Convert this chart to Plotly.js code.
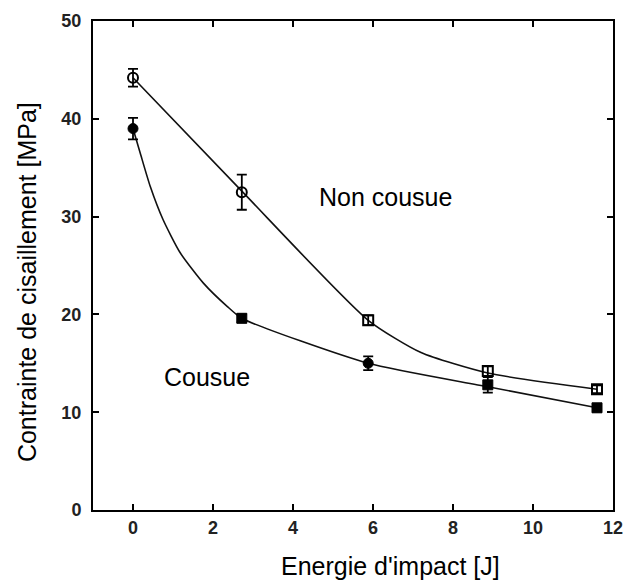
<!DOCTYPE html>
<html>
<head>
<meta charset="utf-8">
<script src="https://cdn.plot.ly/plotly-3.0.1.min.js"></script>
<style>html,body{margin:0;padding:0;background:#fff;}#chart{width:627px;height:583px;}</style>
</head>
<body>
<div id="chart"></div>
<script>
// Measured points
const energy = [0, 2.72, 5.88, 8.87, 11.6];
const nonCousue = [44.2, 32.5, 19.4, 14.2, 12.35];
const nonCousueErr = [0.9, 1.8, 0.5, 0.5, 0.4];
const nonCousueSymbols = ['circle-open', 'circle-open', 'square-open', 'square-open', 'square-open'];
const cousue = [39.0, 19.6, 15.0, 12.8, 10.45];
const cousueErr = [1.1, 0.4, 0.7, 0.8, 0.4];
const cousueSymbols = ['circle', 'square', 'circle', 'square', 'square'];

// Fitted curves
const nonCousueFitX = [0, 2.72, 5.88, 7.2, 8.87, 11.6];
const nonCousueFitY = [44.2, 32.6, 19.4, 16.1, 14.0, 12.35];
const cousueFitX = [0, 0.18, 0.43, 0.75, 1.18, 1.76, 2.36, 2.72, 5.88, 8.87, 11.6];
const cousueFitY = [39.0, 36.5, 33.1, 29.7, 26.3, 23.2, 20.8, 19.6, 15.0, 12.6, 10.45];

const xTicks = [0, 2, 4, 6, 8, 10, 12];
const yTicks = [0, 10, 20, 30, 40, 50];

const xTitle = "Energie d'impact [J]";
const yTitle = 'Contrainte de cisaillement [MPa]';

const labels = [
  {text: 'Non cousue', x: 6.3, y: 32.0},
  {text: 'Cousue', x: 1.84, y: 13.6}
];

const FONT = 'Liberation Sans, Arial, sans-serif';

const traces = [
  {x: nonCousueFitX, y: nonCousueFitY, mode: 'lines', line: {color: '#111', width: 1.6, shape: 'spline', smoothing: 0.6}, hoverinfo: 'skip', showlegend: false},
  {x: cousueFitX, y: cousueFitY, mode: 'lines', line: {color: '#111', width: 1.6, shape: 'spline', smoothing: 0.6}, hoverinfo: 'skip', showlegend: false},
  {x: energy, y: nonCousue, mode: 'markers', name: 'Non cousue',
   marker: {symbol: nonCousueSymbols, size: 10, color: '#000', line: {color: '#000', width: 2}},
   error_y: {type: 'data', array: nonCousueErr, visible: true, color: '#000', thickness: 1.8, width: 5}, showlegend: false},
  {x: energy, y: cousue, mode: 'markers', name: 'Cousue',
   marker: {symbol: cousueSymbols, size: 10, color: '#000', line: {color: '#000', width: 1}},
   error_y: {type: 'data', array: cousueErr, visible: true, color: '#000', thickness: 1.8, width: 5}, showlegend: false}
];

const axisCommon = {
  showgrid: false, zeroline: false, showline: true, linecolor: '#000', linewidth: 2,
  mirror: 'ticks', ticks: 'inside', ticklen: 6, tickwidth: 2, tickcolor: '#000',
  tickfont: {family: FONT, size: 18, color: '#222', weight: 'bold'}
};

const layout = {
  width: 627, height: 583,
  margin: {l: 93, r: 14, t: 21, b: 73},
  paper_bgcolor: '#fff', plot_bgcolor: '#fff',
  font: {family: FONT, color: '#000'},
  xaxis: Object.assign({}, axisCommon, {
    range: [-1, 12], tickvals: xTicks, ticktext: xTicks.map(String)
  }),
  yaxis: Object.assign({}, axisCommon, {
    range: [0, 50], tickvals: yTicks, ticktext: yTicks.map(String), ticklabelstandoff: 6
  }),
  annotations: labels.map(l => ({text: l.text, x: l.x, y: l.y, xref: 'x', yref: 'y', showarrow: false,
    font: {size: 25, color: '#000', family: FONT}})).concat([
    {text: xTitle, xref: 'paper', yref: 'paper', x: 0.573, y: -0.1145, xanchor: 'center', yanchor: 'middle',
     showarrow: false, font: {size: 25, color: '#000', family: FONT}},
    {text: yTitle, xref: 'paper', yref: 'paper', x: -0.127, y: 0.466, xanchor: 'center', yanchor: 'middle',
     textangle: -90, showarrow: false, font: {size: 25, color: '#000', family: FONT}}
  ])
};

Plotly.newPlot('chart', traces, layout, {displayModeBar: false, staticPlot: true});
</script>
</body>
</html>
